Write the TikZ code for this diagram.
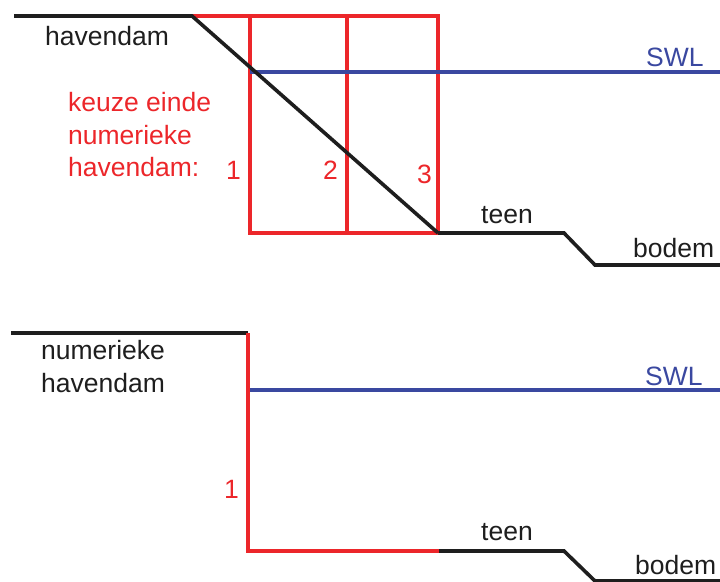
\documentclass[tikz,border=0pt]{standalone}
\usepackage{fontspec}
\setmainfont{Liberation Sans}
\definecolor{damred}{RGB}{236,38,42}
\definecolor{swlblue}{RGB}{58,72,160}
\definecolor{ink}{RGB}{30,30,30}
\begin{document}
\begin{tikzpicture}[x=1pt,y=-1pt,
  ground/.style={draw=ink,line width=3.6pt,line join=miter},
  dam/.style={draw=damred,line width=3.8pt,line join=miter},
  water/.style={draw=swlblue,line width=3.8pt},
  lbl/.style={inner sep=0pt,anchor=base west,font=\fontsize{26.5}{32.5}\selectfont,text=ink},
  redlbl/.style={lbl,text=damred},
  bluelbl/.style={lbl,text=swlblue}]
\useasboundingbox (0,0) rectangle (720,581);

% ---------- upper panel: sloped harbour dam with three cut-off choices ----------
\coordinate (crestL) at (14,16);
\coordinate (crest) at (192,16);
\coordinate (c1t) at (250,16);
\coordinate (c2t) at (347,16);
\coordinate (c3t) at (438,16);
\coordinate (c1b) at (250,233);
\coordinate (c2b) at (347,233);
\coordinate (toe) at (438,233);
\coordinate (swlA) at (250,72);
\coordinate (swlAr) at (720,72);
\coordinate (teenA) at (564,233);
\coordinate (bodA) at (595,265);
\coordinate (bodAr) at (720,265);

\draw[dam] (crest) -- (c3t) -- (toe) -- (c1b) -- (c1t);
\draw[dam] (c2t) -- (c2b);
\draw[water] (swlA) -- (swlAr);
\draw[ground] (crestL) -- (crest) -- (toe);
\draw[ground] (toe) -- (teenA) -- (bodA) -- (bodAr);

\node[lbl] (havA) at (45,45) {havendam};
\node[redlbl,align=left,anchor=north west] (keuze) at (68,92.5) {keuze einde\\numerieke\\havendam:};
\node[redlbl] (n1) at (226,179) {1};
\node[redlbl] (n2) at (323,179) {2};
\node[redlbl] (n3) at (417,183) {3};
\node[bluelbl] (swlAt) at (646,66) {SWL};
\node[lbl] (teenAt) at (481,223) {teen};
\node[lbl] (bodAt) at (633,257) {bodem};

% ---------- lower panel: vertical numerical harbour dam ----------
\coordinate (crestLB) at (11,333);
\coordinate (crestB) at (248,333);
\coordinate (footB) at (248,551);
\coordinate (toeB) at (439,551);
\coordinate (swlB) at (250,390);
\coordinate (swlBr) at (720,390);
\coordinate (teenB) at (564,551);
\coordinate (bodB) at (595,581);
\coordinate (bodBr) at (720,581);

\draw[water] (swlB) -- (swlBr);
\draw[ground] (crestLB) -- (crestB);
\draw[dam] (crestB) -- (footB) -- (toeB);
\draw[ground] (toeB) -- (teenB) -- (bodB) -- (bodBr);

\node[lbl,align=left,anchor=north west] (numB) at (41,340.5) {numerieke\\havendam};
\node[redlbl] (n1B) at (224,498) {1};
\node[bluelbl] (swlBt) at (645,385) {SWL};
\node[lbl] (teenBt) at (481,540) {teen};
\node[lbl] (bodBt) at (635,574) {bodem};
\end{tikzpicture}
\end{document}
